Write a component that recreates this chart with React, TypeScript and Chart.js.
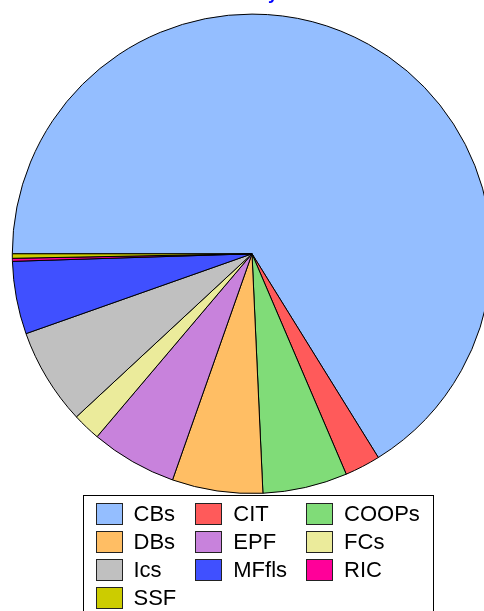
import React, { useEffect, useRef } from "react";
import { Chart, registerables } from "chart.js";

Chart.register(...registerables);

const chartTitle = "All Assets by Sector";
const categories = ["CBs", "CIT", "COOPs", "DBs", "EPF", "FCs", "Ics", "MFfls", "RIC", "SSF"];
const shares = [66.1, 2.4, 5.7, 6.1, 5.8, 1.9, 6.5, 4.9, 0.2, 0.3];
const sliceColors = [
  "#94BEFF",
  "#FF5A5A",
  "#80DC78",
  "#FFBE64",
  "#C882DC",
  "#EBEB9B",
  "#C0C0C0",
  "#4050FF",
  "#FF0099",
  "#CCCC00",
];

const FONT = "'Liberation Sans', Arial, Helvetica, sans-serif";

const gridLegend = {
  id: "gridLegend",
  afterDraw(chart: any, _args: any, opts: any) {
    const ctx = chart.ctx as CanvasRenderingContext2D;
    const labels = chart.data.labels as string[];
    const colors = chart.data.datasets[0].backgroundColor as string[];
    const cols = opts.columns;
    const rows = Math.ceil(labels.length / cols);
    ctx.save();
    ctx.font = `${opts.fontSize}px ${FONT}`;
    const colWidths: number[] = [];
    for (let c = 0; c < cols; c++) {
      let w = 0;
      for (let r = 0; r < rows; r++) {
        const i = r * cols + c;
        if (i < labels.length) w = Math.max(w, ctx.measureText(labels[i]).width);
      }
      colWidths.push(w);
    }
    const colX: number[] = [];
    let x = opts.left + opts.padX;
    for (let c = 0; c < cols; c++) {
      colX.push(x);
      x += opts.boxWidth + opts.textGap + colWidths[c] + (c < cols - 1 ? opts.colGap : 0);
    }
    const totalW = x - opts.left + opts.padX;
    const top = chart.chartArea.bottom + opts.topGap;
    const totalH = opts.padTop + rows * opts.rowHeight + opts.padBottom;

    ctx.fillStyle = "#ffffff";
    ctx.fillRect(opts.left, top, totalW, totalH);
    ctx.strokeStyle = "#000000";
    ctx.lineWidth = 1;
    ctx.strokeRect(Math.round(opts.left) + 0.5, Math.round(top) + 0.5, Math.round(totalW), Math.round(totalH));

    ctx.textBaseline = "middle";
    ctx.textAlign = "left";
    for (let i = 0; i < labels.length; i++) {
      const r = Math.floor(i / cols);
      const c = i % cols;
      const bx = Math.round(colX[c]);
      const by = Math.round(top + opts.padTop + r * opts.rowHeight);
      ctx.fillStyle = colors[i];
      ctx.fillRect(bx, by, opts.boxWidth, opts.boxHeight);
      ctx.strokeStyle = "#222222";
      ctx.strokeRect(bx + 0.5, by + 0.5, opts.boxWidth - 1, opts.boxHeight - 1);
      ctx.fillStyle = "#000000";
      ctx.fillText(labels[i], colX[c] + opts.boxWidth + opts.textGap, by + opts.boxHeight / 2 + 1);
    }
    ctx.restore();
  },
};

export default function App() {
  const canvasRef = useRef<HTMLCanvasElement | null>(null);

  useEffect(() => {
    if (!canvasRef.current) return;
    const chart = new Chart(canvasRef.current, {
      type: "pie",
      data: {
        labels: categories,
        datasets: [
          {
            data: shares,
            backgroundColor: sliceColors,
            borderColor: "#000000",
            borderWidth: 1,
          },
        ],
      },
      options: {
        responsive: false,
        animation: false,
        devicePixelRatio: 1,
        rotation: -90,
        layout: { padding: { top: 0, bottom: 158, left: 0, right: 0 } },
        plugins: {
          legend: { display: false },
          tooltip: { enabled: false },
          title: {
            display: true,
            text: chartTitle,
            color: "#0000FF",
            font: { family: FONT, size: 18, weight: "bold", lineHeight: 1.2 },
            padding: { top: 11, bottom: 9 },
          },
          gridLegend: {
            columns: 3,
            left: 82.5,
            topGap: 1,
            padX: 13,
            padTop: 8,
            padBottom: 4,
            rowHeight: 28,
            boxWidth: 27,
            boxHeight: 22,
            textGap: 11,
            colGap: 19,
            fontSize: 22,
          },
        } as any,
      },
      plugins: [gridLegend],
    });
    return () => chart.destroy();
  }, []);

  return (
    <div
      style={{
        position: "absolute",
        left: 0,
        top: 0,
        width: 484,
        height: 611,
        overflow: "hidden",
        background: "#ffffff",
      }}
    >
      <canvas
        ref={canvasRef}
        width={504}
        height={680}
        style={{ position: "absolute", left: 0, top: -28, width: 504, height: 680 }}
      />
    </div>
  );
}
